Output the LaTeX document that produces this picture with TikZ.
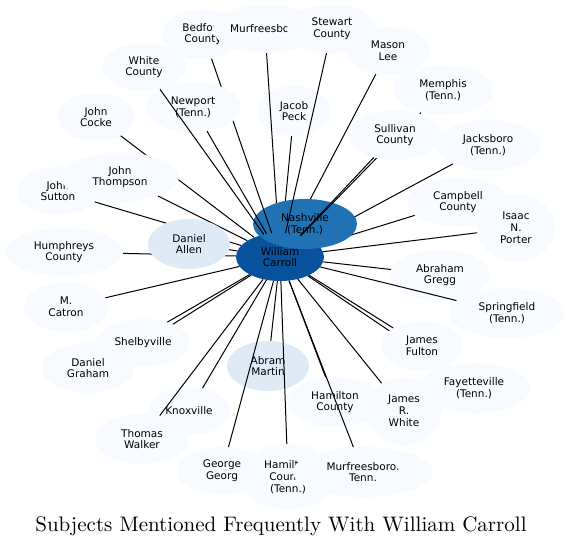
\documentclass[tikz,border=0pt]{standalone}
\usepackage{fontspec}
\newfontfamily\subjfont{DejaVu Sans}
\newfontfamily\titlefont{lmroman10-regular.otf}
\usetikzlibrary{shapes.geometric}
\definecolor{leaf}{RGB}{247,251,255}
\definecolor{pale}{RGB}{222,235,247}
\definecolor{mid}{RGB}{33,113,181}
\definecolor{deep}{RGB}{8,81,156}

\begin{document}
\begin{tikzpicture}[x=1pt,y=-1pt,
  subj/.style={ellipse,fill=leaf,inner sep=0pt,align=center,font=\subjfont\fontsize{10.5}{11.8}\selectfont},
  link/.style={line width=1pt}]
\useasboundingbox (0,0) rectangle (570,547);
\node[subj,fill=deep,minimum width=88,minimum height=48] (carroll) at (280,257) {William\\Carroll};
\node[subj,minimum width=82,minimum height=50] (bedford) at (203,34) {Bedford\\County};
\node[subj,minimum width=104,minimum height=48] (murfreesboro) at (265,29) {Murfreesboro};
\node[subj,minimum width=90,minimum height=48] (stewart) at (332,29) {Stewart\\County};
\node[subj,minimum width=74,minimum height=50] (jacob) at (294,111) {Jacob\\Peck};
\node[subj,minimum width=84,minimum height=48] (mason) at (388,51) {Mason\\Lee};
\node[subj,minimum width=106,minimum height=50] (jacksboro) at (488,145) {Jacksboro\\(Tenn.)};
\node[subj,minimum width=102,minimum height=50] (campbell) at (458,202) {Campbell\\County};
\foreach \n in {murfreesboro,jacob,mason,jacksboro,campbell}
  \draw[link] (carroll) -- (\n);
\node[subj,fill=mid,minimum width=104,minimum height=50] (nashville) at (305,224) {Nashville\\(Tenn.)};
\foreach \n in {bedford,stewart}
  \draw[link] (carroll) -- (\n);
\node[subj,minimum width=100,minimum height=50] (memphis) at (443,90) {Memphis\\(Tenn.)};
\draw[link] (carroll) -- (memphis);
\node[subj,minimum width=94,minimum height=50] (sullivan) at (395,135) {Sullivan\\County};
\draw[link] (carroll) -- (sullivan);
\node[subj,minimum width=84,minimum height=48] (whitecty) at (144,67) {White\\County};
\node[subj,minimum width=96,minimum height=50] (newport) at (193,107) {Newport\\(Tenn.)};
\foreach \n in {whitecty,newport}
  \draw[link] (carroll) -- (\n);
\node[subj,minimum width=78,minimum height=48] (cocke) at (96,117) {John\\Cocke};
\node[subj,minimum width=82,minimum height=48] (sutton) at (58,191) {John\\Sutton};
\foreach \n in {cocke,sutton}
  \draw[link] (carroll) -- (\n);
\node[subj,minimum width=118,minimum height=49] (thompson) at (120,177) {John\\Thompson};
\draw[link] (carroll) -- (thompson);
\node[subj,minimum width=118,minimum height=48] (humphreys) at (64,252) {Humphreys\\County};
\draw[link] (carroll) -- (humphreys);
\node[subj,fill=pale,minimum width=82,minimum height=50] (allen) at (189,244) {Daniel\\Allen};
\draw[link] (carroll) -- (allen);
\node[subj,minimum width=84,minimum height=50] (catron) at (66,307) {M.\\Catron};
\node[subj,minimum width=92,minimum height=50] (graham) at (88,368) {Daniel\\Graham};
\foreach \n in {catron,graham}
  \draw[link] (carroll) -- (\n);
\node[subj,minimum width=94,minimum height=48] (shelbyville) at (143,343) {Shelbyville};
\node[subj,minimum width=82,minimum height=48] (knoxville) at (189,411) {Knoxville};
\node[subj,minimum width=94,minimum height=50] (walker) at (142,439) {Thomas\\Walker};
\foreach \n in {shelbyville,knoxville,walker}
  \draw[link] (carroll) -- (\n);
\node[subj,fill=pale,minimum width=82,minimum height=50] (abram) at (268,366) {Abram\\Martin};
\node[subj,minimum width=90,minimum height=48] (george) at (222,471) {George\\Georg};
\node[subj,minimum width=98,minimum height=66] (hamiltontn) at (288,477) {Hamilton\\County\\(Tenn.)};
\node[subj,minimum width=140,minimum height=50] (murfreesborotn) at (363,472) {Murfreesboro.\\Tenn.};
\node[subj,minimum width=96,minimum height=50] (hamilton) at (335,402) {Hamilton\\County};
\foreach \n in {abram,george,hamiltontn,hamilton,murfreesborotn}
  \draw[link] (carroll) -- (\n);
\node[subj,minimum width=76,minimum height=68] (jrwhite) at (404,411) {James\\R.\\White};
\node[subj,minimum width=114,minimum height=50] (fayetteville) at (474,388) {Fayetteville\\(Tenn.)};
\foreach \n in {jrwhite,fayetteville}
  \draw[link] (carroll) -- (\n);
\node[subj,minimum width=82,minimum height=50] (fulton) at (422,346) {James\\Fulton};
\node[subj,minimum width=116,minimum height=50] (springfield) at (507,313) {Springfield\\(Tenn.)};
\node[subj,minimum width=100,minimum height=50] (gregg) at (440,275) {Abraham\\Gregg};
\node[subj,minimum width=78,minimum height=68] (porter) at (516,228) {Isaac\\N.\\Porter};
\foreach \n in {fulton,springfield,gregg,porter}
  \draw[link] (carroll) -- (\n);
\node[anchor=base,font=\titlefont\fontsize{21}{25}\selectfont] (title) at (281,531) {Subjects Mentioned Frequently With William Carroll};
\end{tikzpicture}
\end{document}
